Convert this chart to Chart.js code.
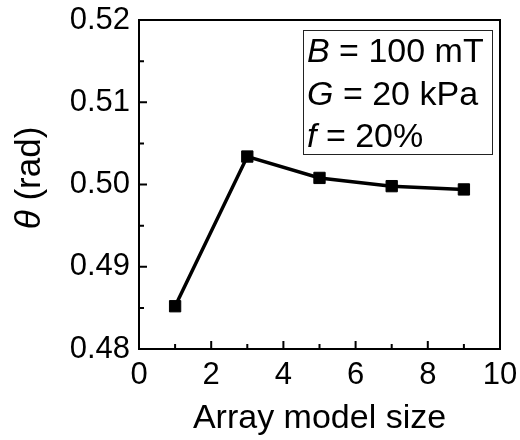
<!DOCTYPE html>
<html>
<head>
<meta charset="utf-8">
<script src="https://cdn.jsdelivr.net/npm/chart.js@4/dist/chart.umd.min.js"></script>
<style>
  html, body { margin: 0; padding: 0; background: #fff; }
  #wrap { width: 520px; height: 440px; }
</style>
</head>
<body>
<div id="wrap"><canvas id="chart" width="520" height="440"></canvas></div>
<script>
// data
const sizes = [1, 3, 5, 7, 9];
const theta = [0.4852, 0.5034, 0.5008, 0.4998, 0.4994];
const xMinorTicks = [1, 3, 5, 7, 9];
const yMinorTicks = [0.485, 0.495, 0.505, 0.515];
const boxLines = [
  ['B', ' = 100 mT'],
  ['G', ' = 20 kPa'],
  ['f', ' = 20%']
];

const FONT = '"Liberation Sans", Arial, sans-serif';

// frame, inward ticks, y title and parameter box
const framePlugin = {
  id: 'frame',
  afterDraw(chart) {
    const ctx = chart.ctx;
    const a = chart.chartArea;
    const xs = chart.scales.x;
    const ys = chart.scales.y;
    ctx.save();
    ctx.strokeStyle = '#000';
    ctx.lineWidth = 2;
    ctx.strokeRect(a.left, a.top, a.right - a.left, a.bottom - a.top);

    ctx.beginPath();
    xs.ticks.forEach(t => {
      const px = xs.getPixelForValue(t.value);
      ctx.moveTo(px, a.bottom); ctx.lineTo(px, a.bottom - 8);
    });
    xMinorTicks.forEach(v => {
      const px = xs.getPixelForValue(v);
      ctx.moveTo(px, a.bottom); ctx.lineTo(px, a.bottom - 5);
    });
    ys.ticks.forEach(t => {
      const py = ys.getPixelForValue(t.value);
      ctx.moveTo(a.left, py); ctx.lineTo(a.left + 8, py);
    });
    yMinorTicks.forEach(v => {
      const py = ys.getPixelForValue(v);
      ctx.moveTo(a.left, py); ctx.lineTo(a.left + 5, py);
    });
    ctx.stroke();

    // y axis title: θ (rad)
    ctx.fillStyle = '#000';
    ctx.translate(30, 178);
    ctx.rotate(-Math.PI / 2);
    ctx.textBaseline = 'middle';
    ctx.textAlign = 'left';
    ctx.font = 'italic 35px ' + FONT;
    const w1 = ctx.measureText('θ').width;
    ctx.font = '35px ' + FONT;
    const w2 = ctx.measureText(' (rad)').width;
    const x0 = -(w1 + w2) / 2;
    ctx.font = 'italic 35px ' + FONT;
    ctx.fillText('θ', x0, 0);
    ctx.font = '35px ' + FONT;
    ctx.fillText(' (rad)', x0 + w1, 0);
    ctx.setTransform(1, 0, 0, 1, 0, 0);

    // parameter box
    ctx.lineWidth = 1;
    ctx.strokeStyle = '#222';
    ctx.strokeRect(303.5, 30.5, 189, 124);
    ctx.textBaseline = 'alphabetic';
    boxLines.forEach((ln, i) => {
      const y = 62 + i * 42.5;
      ctx.font = 'italic 34px ' + FONT;
      ctx.fillText(ln[0], 307, y);
      const wi = ctx.measureText(ln[0]).width;
      ctx.font = '34px ' + FONT;
      ctx.fillText(ln[1], 307 + wi, y);
    });
    ctx.restore();
  }
};

new Chart(document.getElementById('chart'), {
  type: 'line',
  data: {
    datasets: [{
      data: sizes.map((s, i) => ({ x: s, y: theta[i] })),
      borderColor: '#000',
      backgroundColor: '#000',
      borderWidth: 3.5,
      pointStyle: 'rect',
      pointRadius: 8,
      pointBorderWidth: 1,
      tension: 0
    }]
  },
  options: {
    responsive: false,
    animation: false,
    layout: { padding: { left: 0, right: 20, top: 20, bottom: 0 } },
    plugins: { legend: { display: false }, tooltip: { enabled: false } },
    scales: {
      x: {
        type: 'linear',
        min: 0, max: 10,
        grid: { display: false, drawTicks: false },
        border: { display: false },
        ticks: { stepSize: 2, padding: 8, color: '#000', font: { family: FONT, size: 31 } },
        title: { display: true, text: 'Array model size', color: '#000', font: { family: FONT, size: 34 }, padding: { top: 0, bottom: 1 } },
        afterFit(scale) {
          scale.height = 91;
          scale.paddingLeft = 0;
          scale.paddingRight = 0;
        }
      },
      y: {
        min: 0.48, max: 0.52,
        grid: { display: false, drawTicks: false },
        border: { display: false },
        ticks: { stepSize: 0.01, padding: 9, color: '#000', font: { family: FONT, size: 31 },
          callback: v => v.toFixed(2) },
        afterFit(scale) {
          scale.width = 139;
          scale.paddingTop = 0;
          scale.paddingBottom = 0;
        }
      }
    }
  },
  plugins: [framePlugin]
});
</script>
</body>
</html>
